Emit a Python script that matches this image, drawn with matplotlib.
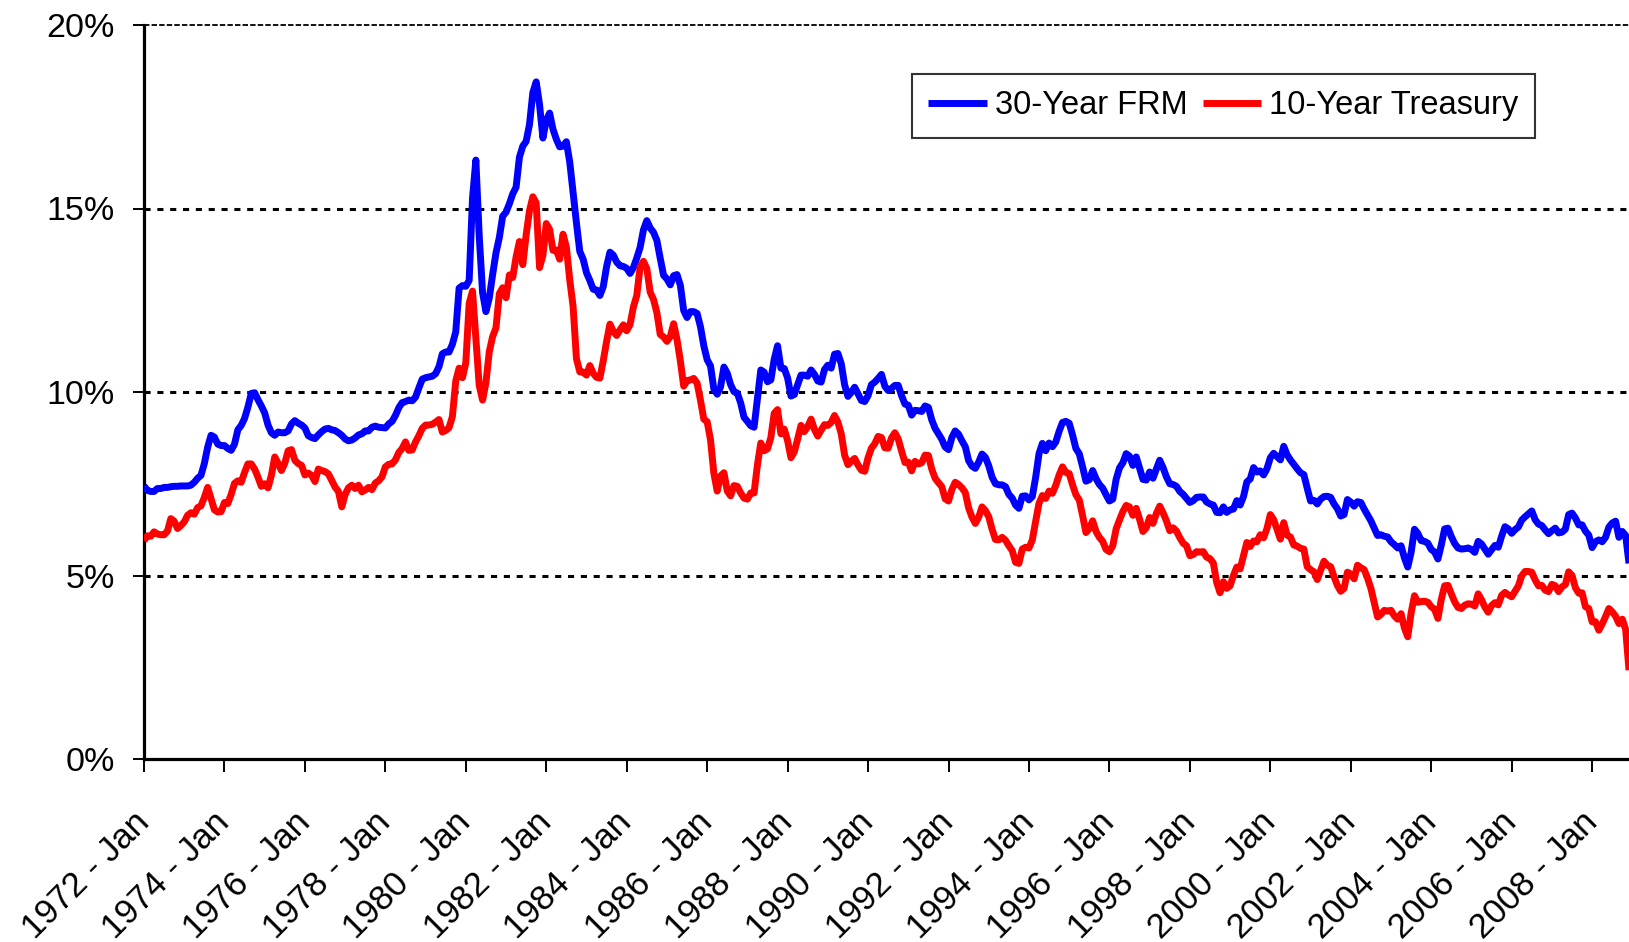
import matplotlib
matplotlib.use("Agg")
import matplotlib.pyplot as plt
from matplotlib.transforms import ScaledTranslation
import numpy as np

plt.rcParams["font.family"] = ["Liberation Sans", "DejaVu Sans"]

# monthly averages, Jan 1972 .. Dec 2008 (percent)
frm30 = [
    7.44, 7.32, 7.29, 7.29, 7.37, 7.37, 7.40, 7.40, 7.42, 7.43, 7.43, 7.44,  # 1972
    7.44, 7.44, 7.46, 7.54, 7.65, 7.73, 8.05, 8.50, 8.82, 8.77, 8.58, 8.54,  # 1973
    8.54, 8.46, 8.41, 8.58, 8.97, 9.09, 9.28, 9.59, 9.96, 9.98, 9.79, 9.62,  # 1974
    9.43, 9.10, 8.89, 8.82, 8.91, 8.89, 8.89, 8.94, 9.13, 9.22, 9.15, 9.10,  # 1975
    9.02, 8.81, 8.76, 8.73, 8.83, 8.92, 8.99, 9.01, 8.97, 8.95, 8.89, 8.82,  # 1976
    8.72, 8.67, 8.69, 8.75, 8.83, 8.86, 8.94, 8.94, 9.04, 9.07, 9.04, 9.03,  # 1977
    9.02, 9.13, 9.20, 9.36, 9.57, 9.71, 9.74, 9.78, 9.76, 9.86, 10.11, 10.35,  # 1978
    10.39, 10.41, 10.43, 10.50, 10.69, 11.04, 11.09, 11.09, 11.30, 11.64, 12.83, 12.90,  # 1979
    12.88, 13.04, 15.28, 16.32, 14.26, 12.71, 12.19, 12.56, 13.20, 13.79, 14.21, 14.79,  # 1980
    14.90, 15.13, 15.40, 15.58, 16.40, 16.70, 16.83, 17.29, 18.16, 18.45, 17.83, 16.92,  # 1981
    17.40, 17.60, 17.16, 16.89, 16.68, 16.70, 16.82, 16.27, 15.43, 14.61, 13.83, 13.62,  # 1982
    13.25, 13.04, 12.80, 12.78, 12.63, 12.87, 13.42, 13.81, 13.73, 13.54, 13.44, 13.42,  # 1983
    13.37, 13.23, 13.39, 13.65, 13.94, 14.42, 14.67, 14.47, 14.35, 14.13, 13.64, 13.18,  # 1984
    13.08, 12.92, 13.17, 13.20, 12.91, 12.22, 12.03, 12.19, 12.19, 12.14, 11.78, 11.26,  # 1985
    10.88, 10.71, 10.08, 9.94, 10.14, 10.68, 10.51, 10.20, 10.01, 9.97, 9.70, 9.31,  # 1986
    9.20, 9.08, 9.04, 9.83, 10.60, 10.54, 10.28, 10.33, 10.89, 11.26, 10.65, 10.64,  # 1987
    10.38, 9.89, 9.93, 10.20, 10.46, 10.46, 10.43, 10.60, 10.48, 10.30, 10.27, 10.61,  # 1988
    10.73, 10.65, 11.03, 11.05, 10.77, 10.20, 9.88, 9.99, 10.13, 9.95, 9.77, 9.74,  # 1989
    9.90, 10.20, 10.27, 10.37, 10.48, 10.16, 10.04, 10.10, 10.18, 10.18, 9.90, 9.67,  # 1990
    9.64, 9.37, 9.50, 9.49, 9.47, 9.62, 9.58, 9.24, 9.01, 8.86, 8.71, 8.50,  # 1991
    8.43, 8.76, 8.94, 8.85, 8.67, 8.51, 8.13, 7.98, 7.92, 8.09, 8.31, 8.22,  # 1992
    7.99, 7.68, 7.50, 7.47, 7.47, 7.42, 7.21, 7.11, 6.92, 6.83, 7.16, 7.17,  # 1993
    7.06, 7.15, 7.68, 8.32, 8.60, 8.40, 8.61, 8.51, 8.64, 8.93, 9.17, 9.20,  # 1994
    9.15, 8.83, 8.46, 8.32, 7.96, 7.57, 7.61, 7.86, 7.64, 7.48, 7.38, 7.20,  # 1995
    7.03, 7.08, 7.62, 7.93, 8.07, 8.32, 8.25, 8.00, 8.23, 7.92, 7.62, 7.60,  # 1996
    7.82, 7.65, 7.90, 8.14, 7.94, 7.69, 7.50, 7.48, 7.43, 7.29, 7.21, 7.10,  # 1997
    6.99, 7.04, 7.13, 7.14, 7.14, 7.00, 6.95, 6.92, 6.72, 6.71, 6.87, 6.72,  # 1998
    6.79, 6.81, 7.04, 6.92, 7.15, 7.55, 7.63, 7.94, 7.82, 7.85, 7.74, 7.91,  # 1999
    8.21, 8.33, 8.24, 8.15, 8.52, 8.29, 8.15, 8.03, 7.91, 7.80, 7.75, 7.38,  # 2000
    7.03, 7.05, 6.95, 7.08, 7.15, 7.16, 7.13, 6.95, 6.82, 6.62, 6.66, 7.07,  # 2001
    7.00, 6.89, 7.01, 6.99, 6.81, 6.65, 6.49, 6.29, 6.09, 6.11, 6.07, 6.05,  # 2002
    5.92, 5.84, 5.75, 5.81, 5.48, 5.23, 5.63, 6.26, 6.15, 5.95, 5.93, 5.88,  # 2003
    5.71, 5.64, 5.45, 5.83, 6.27, 6.29, 6.06, 5.87, 5.75, 5.72, 5.73, 5.75,  # 2004
    5.71, 5.63, 5.93, 5.86, 5.72, 5.58, 5.70, 5.82, 5.77, 6.07, 6.33, 6.27,  # 2005
    6.15, 6.25, 6.32, 6.51, 6.60, 6.68, 6.76, 6.52, 6.40, 6.36, 6.24, 6.14,  # 2006
    6.22, 6.29, 6.16, 6.18, 6.26, 6.66, 6.70, 6.57, 6.38, 6.38, 6.21, 6.10,  # 2007
    5.76, 5.92, 5.97, 5.92, 6.04, 6.32, 6.43, 6.48, 6.04, 6.20, 6.09, 5.33,  # 2008
]

treasury10 = [
    5.95, 6.08, 6.07, 6.19, 6.13, 6.11, 6.11, 6.21, 6.55, 6.48, 6.28, 6.36,  # 1972
    6.46, 6.64, 6.71, 6.67, 6.85, 6.90, 7.13, 7.40, 7.09, 6.79, 6.73, 6.74,  # 1973
    6.99, 6.96, 7.21, 7.51, 7.58, 7.54, 7.81, 8.04, 8.04, 7.90, 7.68, 7.43,  # 1974
    7.50, 7.39, 7.73, 8.23, 8.06, 7.86, 8.06, 8.40, 8.43, 8.14, 8.05, 8.00,  # 1975
    7.74, 7.79, 7.73, 7.56, 7.90, 7.86, 7.83, 7.77, 7.59, 7.41, 7.29, 6.87,  # 1976
    7.21, 7.39, 7.46, 7.37, 7.46, 7.28, 7.33, 7.40, 7.34, 7.52, 7.58, 7.69,  # 1977
    7.96, 8.03, 8.04, 8.15, 8.35, 8.46, 8.64, 8.41, 8.42, 8.64, 8.81, 9.01,  # 1978
    9.10, 9.10, 9.12, 9.18, 9.25, 8.91, 8.95, 9.03, 9.33, 10.30, 10.65, 10.39,  # 1979
    10.80, 12.41, 12.75, 11.47, 10.18, 9.78, 10.25, 11.10, 11.51, 11.75, 12.68, 12.84,  # 1980
    12.57, 13.19, 13.12, 13.68, 14.10, 13.47, 14.28, 14.94, 15.32, 15.15, 13.39, 13.72,  # 1981
    14.59, 14.43, 13.86, 13.87, 13.62, 14.30, 13.95, 13.06, 12.34, 10.91, 10.55, 10.54,  # 1982
    10.46, 10.72, 10.51, 10.40, 10.38, 10.85, 11.38, 11.85, 11.65, 11.54, 11.69, 11.83,  # 1983
    11.67, 11.84, 12.32, 12.63, 13.41, 13.56, 13.36, 12.72, 12.52, 12.16, 11.57, 11.50,  # 1984
    11.38, 11.51, 11.86, 11.43, 10.85, 10.16, 10.31, 10.33, 10.37, 10.24, 9.78, 9.26,  # 1985
    9.19, 8.70, 7.78, 7.30, 7.71, 7.80, 7.30, 7.17, 7.45, 7.43, 7.25, 7.11,  # 1986
    7.08, 7.25, 7.25, 8.02, 8.61, 8.40, 8.45, 8.76, 9.42, 9.52, 8.86, 8.99,  # 1987
    8.67, 8.21, 8.37, 8.72, 9.09, 8.92, 9.06, 9.26, 8.98, 8.80, 8.96, 9.11,  # 1988
    9.09, 9.17, 9.36, 9.18, 8.86, 8.28, 8.02, 8.11, 8.19, 8.01, 7.87, 7.84,  # 1989
    8.21, 8.47, 8.59, 8.79, 8.76, 8.48, 8.47, 8.75, 8.89, 8.72, 8.39, 8.08,  # 1990
    8.09, 7.85, 8.11, 8.04, 8.07, 8.28, 8.27, 7.90, 7.65, 7.53, 7.42, 7.09,  # 1991
    7.03, 7.34, 7.54, 7.48, 7.39, 7.26, 6.84, 6.59, 6.42, 6.59, 6.87, 6.77,  # 1992
    6.60, 6.26, 5.98, 5.97, 6.04, 5.96, 5.81, 5.68, 5.36, 5.33, 5.72, 5.77,  # 1993
    5.75, 5.97, 6.48, 6.97, 7.18, 7.10, 7.30, 7.24, 7.46, 7.74, 7.96, 7.81,  # 1994
    7.78, 7.47, 7.20, 7.06, 6.63, 6.17, 6.28, 6.49, 6.20, 6.04, 5.93, 5.71,  # 1995
    5.65, 5.81, 6.27, 6.51, 6.74, 6.91, 6.87, 6.64, 6.83, 6.53, 6.20, 6.30,  # 1996
    6.58, 6.42, 6.69, 6.89, 6.71, 6.49, 6.22, 6.30, 6.21, 6.03, 5.88, 5.81,  # 1997
    5.54, 5.57, 5.65, 5.64, 5.65, 5.50, 5.46, 5.34, 4.81, 4.53, 4.83, 4.65,  # 1998
    4.72, 5.00, 5.23, 5.18, 5.54, 5.90, 5.79, 5.94, 5.92, 6.11, 6.03, 6.28,  # 1999
    6.66, 6.52, 6.26, 5.99, 6.44, 6.10, 6.05, 5.83, 5.80, 5.74, 5.72, 5.24,  # 2000
    5.16, 5.10, 4.89, 5.14, 5.39, 5.28, 5.24, 4.97, 4.73, 4.57, 4.65, 5.09,  # 2001
    5.04, 4.91, 5.28, 5.21, 5.16, 4.93, 4.65, 4.26, 3.87, 3.94, 4.05, 4.03,  # 2002
    4.05, 3.90, 3.81, 3.96, 3.57, 3.33, 3.98, 4.45, 4.27, 4.29, 4.30, 4.27,  # 2003
    4.15, 4.08, 3.83, 4.35, 4.72, 4.73, 4.50, 4.28, 4.13, 4.10, 4.19, 4.23,  # 2004
    4.22, 4.17, 4.50, 4.34, 4.14, 4.00, 4.18, 4.26, 4.20, 4.46, 4.54, 4.47,  # 2005
    4.42, 4.57, 4.72, 4.99, 5.11, 5.11, 5.09, 4.88, 4.72, 4.73, 4.60, 4.56,  # 2006
    4.76, 4.72, 4.56, 4.69, 4.75, 5.10, 5.00, 4.67, 4.52, 4.53, 4.15, 4.10,  # 2007
    3.74, 3.74, 3.51, 3.68, 3.88, 4.10, 4.01, 3.89, 3.69, 3.81, 3.53, 2.42,  # 2008
]

start_year = 1972
tick_years = list(range(1972, 2009, 2))
tick_labels = [f"{y} - Jan" for y in tick_years]
y_ticks = [0, 5, 10, 15, 20]
y_labels = ["0%", "5%", "10%", "15%", "20%"]

months = np.arange(len(frm30))
tick_pos = [(y - start_year) * 12 for y in tick_years]

fig = plt.figure(figsize=(16.29, 9.42), dpi=100)
ax = fig.add_axes([144 / 1629, 1 - 759 / 942, 1 - 144 / 1629, (759 - 25) / 942])

ax.plot(months, frm30, color="#0000FF", lw=5.0, label="30-Year FRM",
        solid_joinstyle="round", solid_capstyle="butt", zorder=3)
ax.plot(months, treasury10, color="#FF0000", lw=5.0, label="10-Year Treasury",
        solid_joinstyle="round", solid_capstyle="butt", zorder=3)

ax.set_xlim(0, len(frm30) - 1)
ax.set_ylim(0, 20)

ax.set_yticks(y_ticks)
ax.set_yticklabels(y_labels, fontsize=24.5)
ax.set_xticks(tick_pos)
ax.set_xticklabels(tick_labels, fontsize=25, rotation=45, ha="right",
                   va="center", rotation_mode="anchor")
shift = ScaledTranslation(-6 / 100, 0, fig.dpi_scale_trans)
for lbl in ax.get_xticklabels():
    lbl.set_transform(lbl.get_transform() + shift)

ax.tick_params(axis="y", direction="out", length=8, width=1.4, pad=13)
ax.tick_params(axis="x", direction="out", length=9, width=1.4, pad=33)

for side in ["top", "right"]:
    ax.spines[side].set_visible(False)
for side in ["left", "bottom"]:
    ax.spines[side].set_linewidth(2.3)
    ax.spines[side].set_color("black")

for yv in [5, 10, 15]:
    ax.axhline(yv, color="black", lw=2.2, linestyle=(0, (2.0, 2.2)),
               zorder=1)
ax.axhline(20, color="black", lw=1.3, linestyle=(0, (3.0, 1.2)),
           zorder=1, clip_on=False)

leg = ax.legend(loc="upper left", bbox_to_anchor=((912 - 144) / 1485, (759 - 74) / 734),
                ncol=2, fontsize=23.5, frameon=True, fancybox=False,
                handlelength=1.8, handletextpad=0.25, columnspacing=0.45,
                borderpad=0.5, borderaxespad=0)
leg.get_frame().set_edgecolor("black")
leg.get_frame().set_linewidth(1.5)

fig.savefig("out.png", dpi=100)
